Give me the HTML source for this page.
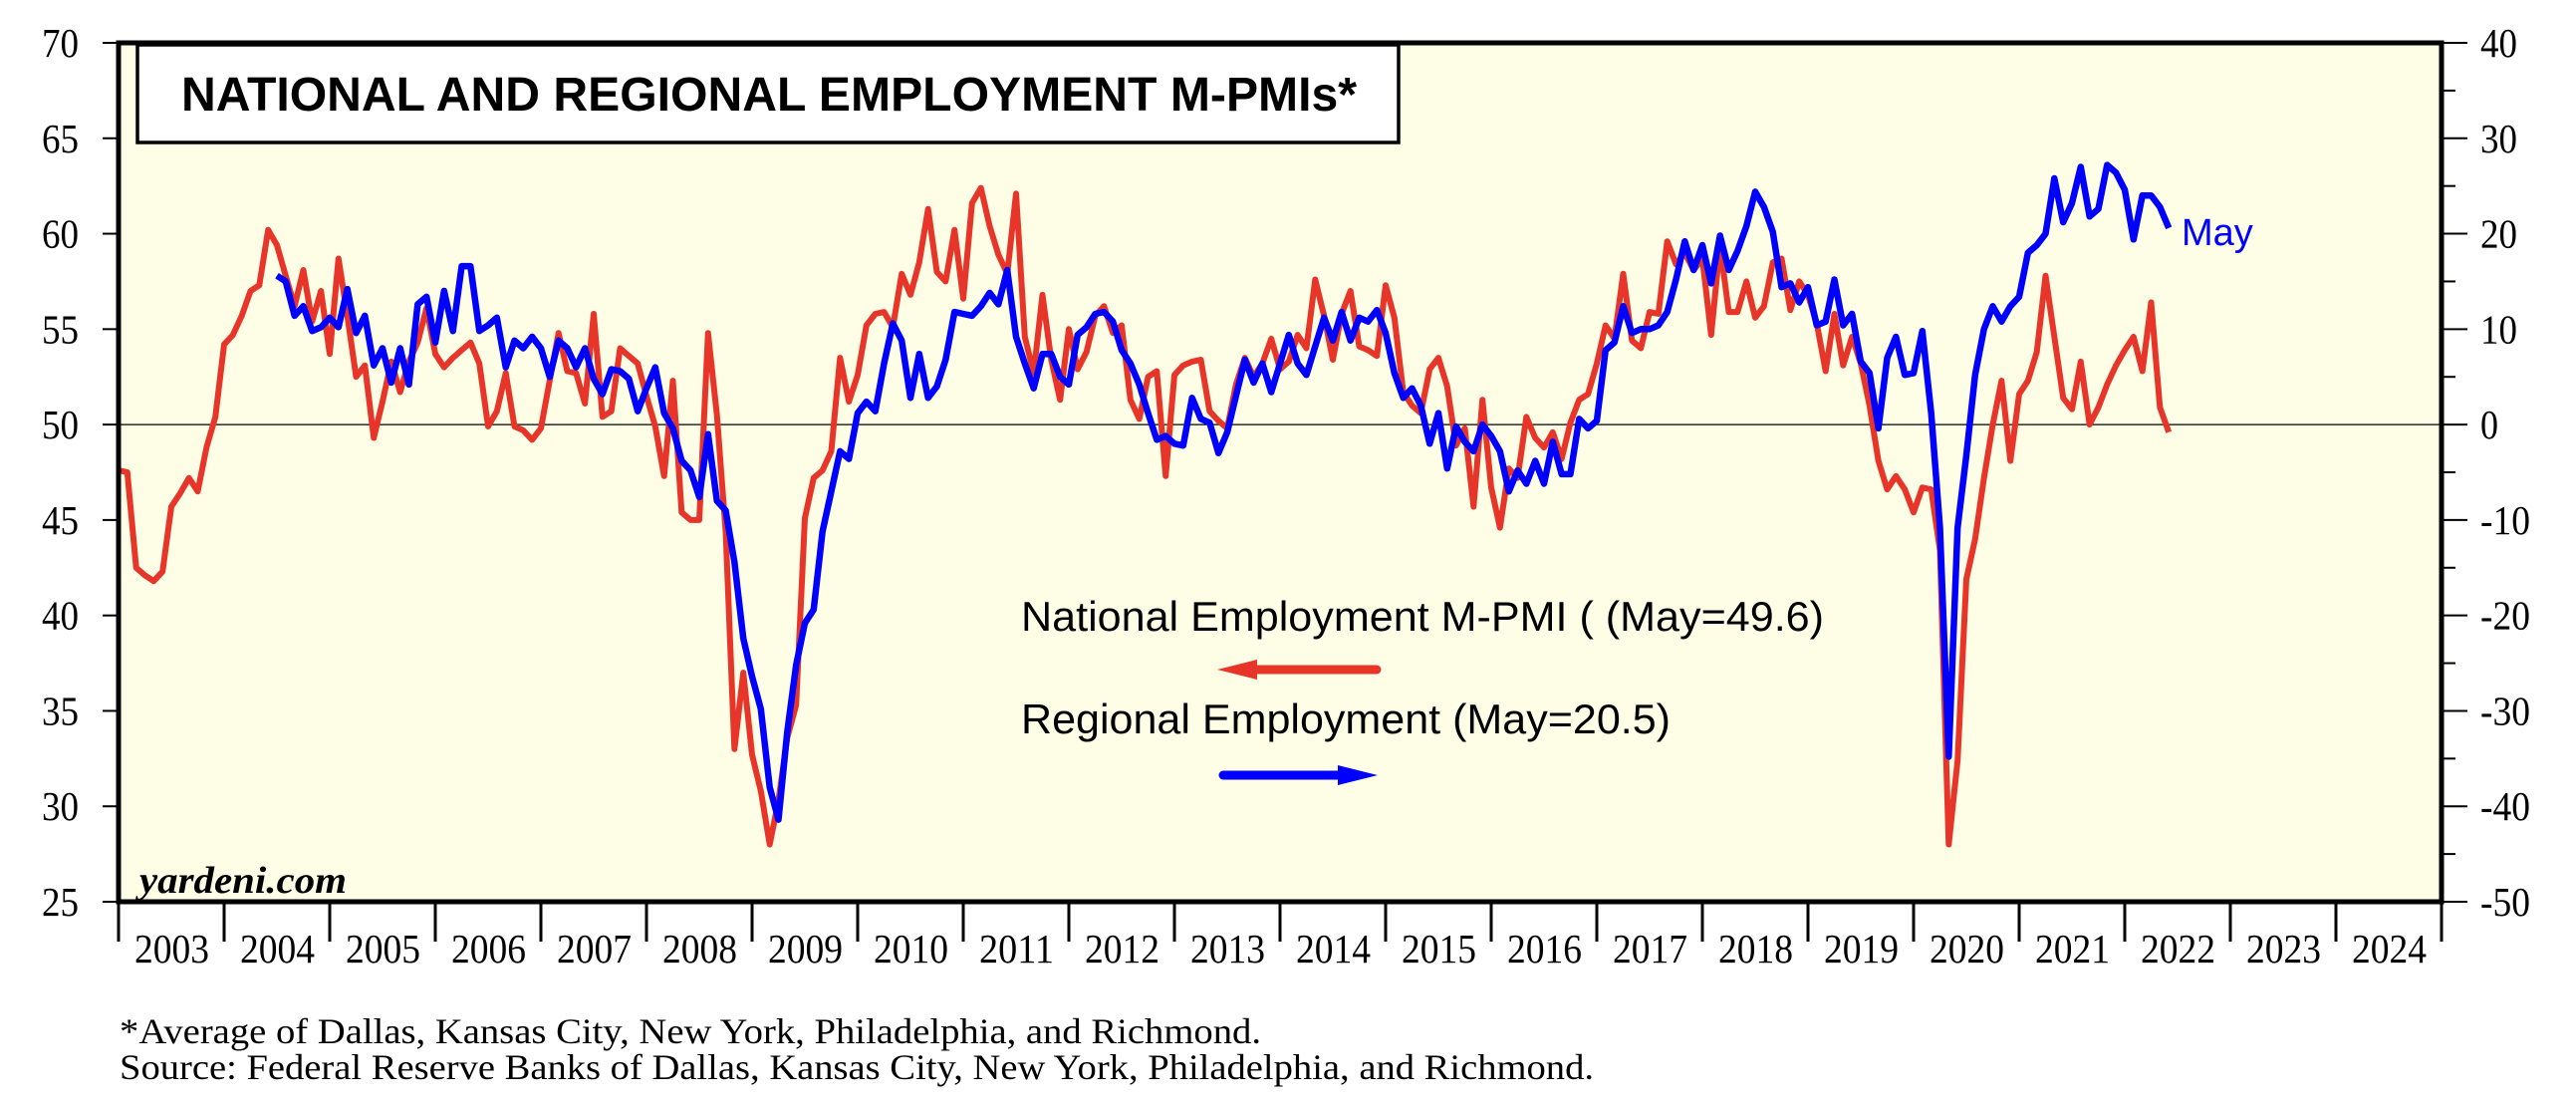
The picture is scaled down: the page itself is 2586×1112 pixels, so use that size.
<!DOCTYPE html>
<html><head><meta charset="utf-8"><style>
html,body{margin:0;padding:0;background:#fff;}
svg{display:block;}
</style></head><body>
<svg id="chart" width="2586" height="1112" viewBox="0 0 2586 1112" xmlns="http://www.w3.org/2000/svg">
<rect x="119" y="43" width="2332" height="862" fill="#fefee6"/>
<g id="grid"></g>
<g id="series"></g>
<g id="axes"></g>
<rect x="138" y="45" width="1266" height="98" fill="#fff" stroke="#000" stroke-width="3.5"/>
<text x="182" y="111" font-family="Liberation Sans, Arial, sans-serif" font-weight="bold" font-size="48" textLength="1180" lengthAdjust="spacingAndGlyphs">NATIONAL AND REGIONAL EMPLOYMENT M-PMIs*</text>
<text x="1025" y="633" font-family="Liberation Sans, Arial, sans-serif" font-size="42" textLength="806" lengthAdjust="spacingAndGlyphs">National Employment M-PMI ( (May=49.6)</text>
<g>
<line x1="1245" y1="672" x2="1382" y2="672" stroke="#e8352a" stroke-width="9" stroke-linecap="round"/>
<polygon points="1222,672 1262,662 1262,682" fill="#e8352a"/>
</g>
<text x="1025" y="736" font-family="Liberation Sans, Arial, sans-serif" font-size="42" textLength="652" lengthAdjust="spacingAndGlyphs">Regional Employment (May=20.5)</text>
<g>
<line x1="1228" y1="778" x2="1360" y2="778" stroke="#0000ff" stroke-width="9" stroke-linecap="round"/>
<polygon points="1383,778 1343,768 1343,788" fill="#0000ff"/>
</g>
<text x="2190" y="246" font-family="Liberation Sans, Arial, sans-serif" font-size="38" fill="#0000ff">May</text>
<text x="140" y="896" font-family="Liberation Serif, Times New Roman, serif" font-style="italic" font-weight="bold" font-size="38" textLength="208" lengthAdjust="spacingAndGlyphs">yardeni.com</text>
<text x="120" y="1047" font-family="Liberation Serif, Times New Roman, serif" font-size="36" textLength="1146" lengthAdjust="spacingAndGlyphs">*Average of Dallas, Kansas City, New York, Philadelphia, and Richmond.</text>
<text x="120" y="1083" font-family="Liberation Serif, Times New Roman, serif" font-size="36" textLength="1480" lengthAdjust="spacingAndGlyphs">Source: Federal Reserve Banks of Dallas, Kansas City, New York, Philadelphia, and Richmond.</text>
</svg>
<script>
// Monthly data, starting Jan 2003
const startYear = 2003;
const yearLabels = ["2003","2004","2005","2006","2007","2008","2009","2010","2011","2012","2013","2014","2015","2016","2017","2018","2019","2020","2021","2022","2023","2024"];
const leftTicks = [25,30,35,40,45,50,55,60,65,70];
const rightTicks = [-50,-40,-30,-20,-10,0,10,20,30,40];
const nationalStartMonth = 0;
const nationalValues = [
47.6,47.5,42.5,42.1,41.8,42.3,45.7,46.4,47.2,46.5,48.8,50.4,54.2,54.7,55.7,57.0,57.3,60.2,
59.4,57.8,56.2,58.1,55.4,57.0,53.7,58.7,55.7,52.5,53.1,49.3,51.2,53.3,51.7,53.3,54.3,56.1,53.7,53.0,
53.5,53.9,54.3,53.2,49.9,50.7,52.7,49.9,49.7,49.2,49.8,52.3,54.8,52.8,52.7,51.1,55.8,50.4,50.7,54.0,
53.6,53.2,51.5,49.9,47.3,52.3,45.4,45.0,45.0,54.8,50.5,44.4,
33.0,37.0,32.7,30.8,28.0,30.3,33.6,35.3,45.1,47.2,47.6,48.6,53.5,51.2,52.6,55.2,55.8,55.9,55.1,57.9,
56.8,58.5,61.3,58.0,57.5,60.2,56.6,61.6,62.4,60.4,58.9,57.9,62.1,54.6,52.7,56.8,53.4,51.3,55.0,52.9,
53.8,55.7,56.2,54.8,55.2,51.3,50.3,52.5,52.8,47.3,52.6,53.1,53.3,53.4,50.7,50.2,49.8,52.1,53.5,52.5,
53.2,54.5,52.9,53.3,54.7,54.0,57.6,
55.7,53.4,55.8,57.0,54.1,53.9,53.6,57.3,55.6,51.7,51.0,50.6,52.9,53.5,52.0,48.9,49.8,45.7,51.3,46.7,
44.6,47.7,47.2,50.4,49.3,48.8,49.6,48.2,50.1,51.3,51.6,53.2,55.2,54.5,57.9,54.4,54.0,55.9,55.8,59.6,
58.4,59.0,58.1,58.7,54.7,59.4,55.9,55.9,57.5,55.6,56.2,58.5,58.7,56.0,57.5,56.8,55.3,52.8,55.8,53.1,
54.6,53.2,51.0,48.1,46.6,47.3,46.6,45.4,46.7,46.6,43.4,28.0,32.4,41.9,44.0,47.2,50.0,52.3,48.1,51.6,
52.3,53.8,57.8,54.6,51.4,50.8,53.3,50.0,50.9,52.1,53.1,53.9,54.6,52.8,56.4,50.9,49.6
];
const regionalStartMonth = 18;
const regionalValues = [
15.6,15.0,11.4,12.4,9.8,10.2,11.2,10.2,14.2,9.6,11.4,6.2,8.0,4.4,8.0,4.2,12.6,13.4,8.6,14.0,
9.8,16.6,16.6,9.8,10.4,11.2,6.0,8.8,8.0,9.2,8.0,5.0,8.8,8.0,6.0,8.0,4.8,3.2,5.8,5.6,
4.8,1.4,3.8,6.0,1.2,-0.4,-3.8,-4.8,-7.6,-1.0,-8.0,-9.0,
-14.4,-22.4,-26.4,-29.8,-38.0,-41.4,-32.2,-25.2,-20.8,-19.4,-11.2,-7.0,-2.8,-3.6,1.2,2.4,1.4,6.4,10.6,8.8,
2.8,7.4,2.8,4.0,6.8,11.8,11.6,11.4,12.4,13.8,12.6,16.2,9.2,6.4,3.8,7.4,7.4,5.0,4.2,9.4,
10.2,11.6,11.8,10.8,7.8,6.4,4.2,1.2,-1.6,-1.2,-2.0,-2.2,2.8,0.6,0.2,-3.0,-0.8,3.0,6.8,4.4,
6.4,3.4,6.4,9.4,6.4,5.2,8.2,
11.2,8.8,11.8,8.8,11.2,10.8,12.0,9.6,5.4,2.8,3.8,2.0,-2.0,1.2,-4.6,-0.2,-1.8,-2.8,0,-1.2,
-2.8,-7.0,-4.8,-6.2,-3.8,-6.2,-1.8,-5.2,-5.2,0.6,-0.4,0.4,7.8,8.6,12.4,9.6,10.0,10.0,10.4,11.8,
15.2,19.2,16.2,18.8,14.8,19.8,16.2,18.2,20.8,24.4,22.8,20.2,14.4,14.8,12.8,14.4,10.4,10.8,15.2,10.4,
11.6,6.6,5.4,-0.4,7.0,9.2,5.2,5.4,9.8,1.2,-10.8,-34.8,-10.8,-3.2,5.2,10.0,12.4,10.8,12.4,13.4,
18.0,18.8,20.0,25.8,21.2,23.2,27.0,21.8,22.6,27.2,26.4,24.6,19.4,24.0,24.0,22.8,20.6
];

const NS = "http://www.w3.org/2000/svg";
const X0 = 119, X1 = 2451, Y0 = 43, Y1 = 905;
const monthW = (X1 - X0) / (yearLabels.length * 12);
function xMonth(m){ return X0 + m * monthW; }
function yLeft(v){ return Y1 - (v - 25) / 45 * (Y1 - Y0); }
function yRight(v){ return Y1 - (v + 50) / 90 * (Y1 - Y0); }
function mk(tag, attrs, parent){
  const el = document.createElementNS(NS, tag);
  for (const k in attrs) el.setAttribute(k, attrs[k]);
  parent.appendChild(el);
  return el;
}
const grid = document.getElementById('grid');
const axes = document.getElementById('axes');
const series = document.getElementById('series');

const zl = mk('line', {x1:X0, x2:X1, y1:yLeft(50), y2:yLeft(50), stroke:'#000', 'stroke-width':1.2}, grid);



function pathFrom(values, start, yf){
  return values.map((v,i)=> (i?'L':'M') + xMonth(start+i).toFixed(1) + ',' + yf(v).toFixed(1)).join('');
}
const red = mk('path', {d:pathFrom(nationalValues, nationalStartMonth, yLeft), fill:'none', stroke:'#e8352a', 'stroke-width':6, 'stroke-linejoin':'round'}, series);


const blue = mk('path', {d:pathFrom(regionalValues, regionalStartMonth, yRight), fill:'none', stroke:'#0000ff', 'stroke-width':6.5, 'stroke-linejoin':'round'}, series);



const fr = mk('rect', {x:X0, y:Y0, width:X1-X0, height:Y1-Y0, fill:'none', stroke:'#000', 'stroke-width':5}, axes);



const serif = 'Liberation Serif, Times New Roman, serif';
leftTicks.forEach(v=>{
  const y = yLeft(v);
  const t = mk('line', {x1:X0-16, x2:X0, y1:y, y2:y, stroke:'#000', 'stroke-width':2}, axes);
  
  
  const l = mk('text', {x:42, y:y+14, 'font-family':serif, 'font-size':41, textLength:37, lengthAdjust:'spacingAndGlyphs'}, axes);
  l.textContent = v;
  
  
});
rightTicks.forEach((v,i)=>{
  const y = yRight(v);
  const t = mk('line', {x1:X1, x2:X1+26, y1:y, y2:y, stroke:'#000', 'stroke-width':2}, axes);
  
  
  if (i < rightTicks.length-1){
    const ym = yRight(v+5);
    const tm = mk('line', {x1:X1, x2:X1+14, y1:ym, y2:ym, stroke:'#000', 'stroke-width':2}, axes);
    
    
  }
  const s = String(v);
  const w = s.length === 1 ? 18 : (s.length === 2 ? 37 : 50);
  const l = mk('text', {x:2490, y:y+14, 'font-family':serif, 'font-size':41, textLength:w, lengthAdjust:'spacingAndGlyphs'}, axes);
  l.textContent = v;
  
  
});
yearLabels.forEach((yr,i)=>{
  const xa = xMonth(i*12);
  const t = mk('line', {x1:xa, x2:xa, y1:Y1, y2:Y1+40, stroke:'#000', 'stroke-width':3}, axes);
  
  
  const l = mk('text', {x:xa+monthW*6-37, y:966, 'font-family':serif, 'font-size':41, textLength:75, lengthAdjust:'spacingAndGlyphs'}, axes);
  l.textContent = yr;
  
  
});
const te = mk('line', {x1:X1, x2:X1, y1:Y1, y2:Y1+40, stroke:'#000', 'stroke-width':3}, axes);


</script>
</body></html>
